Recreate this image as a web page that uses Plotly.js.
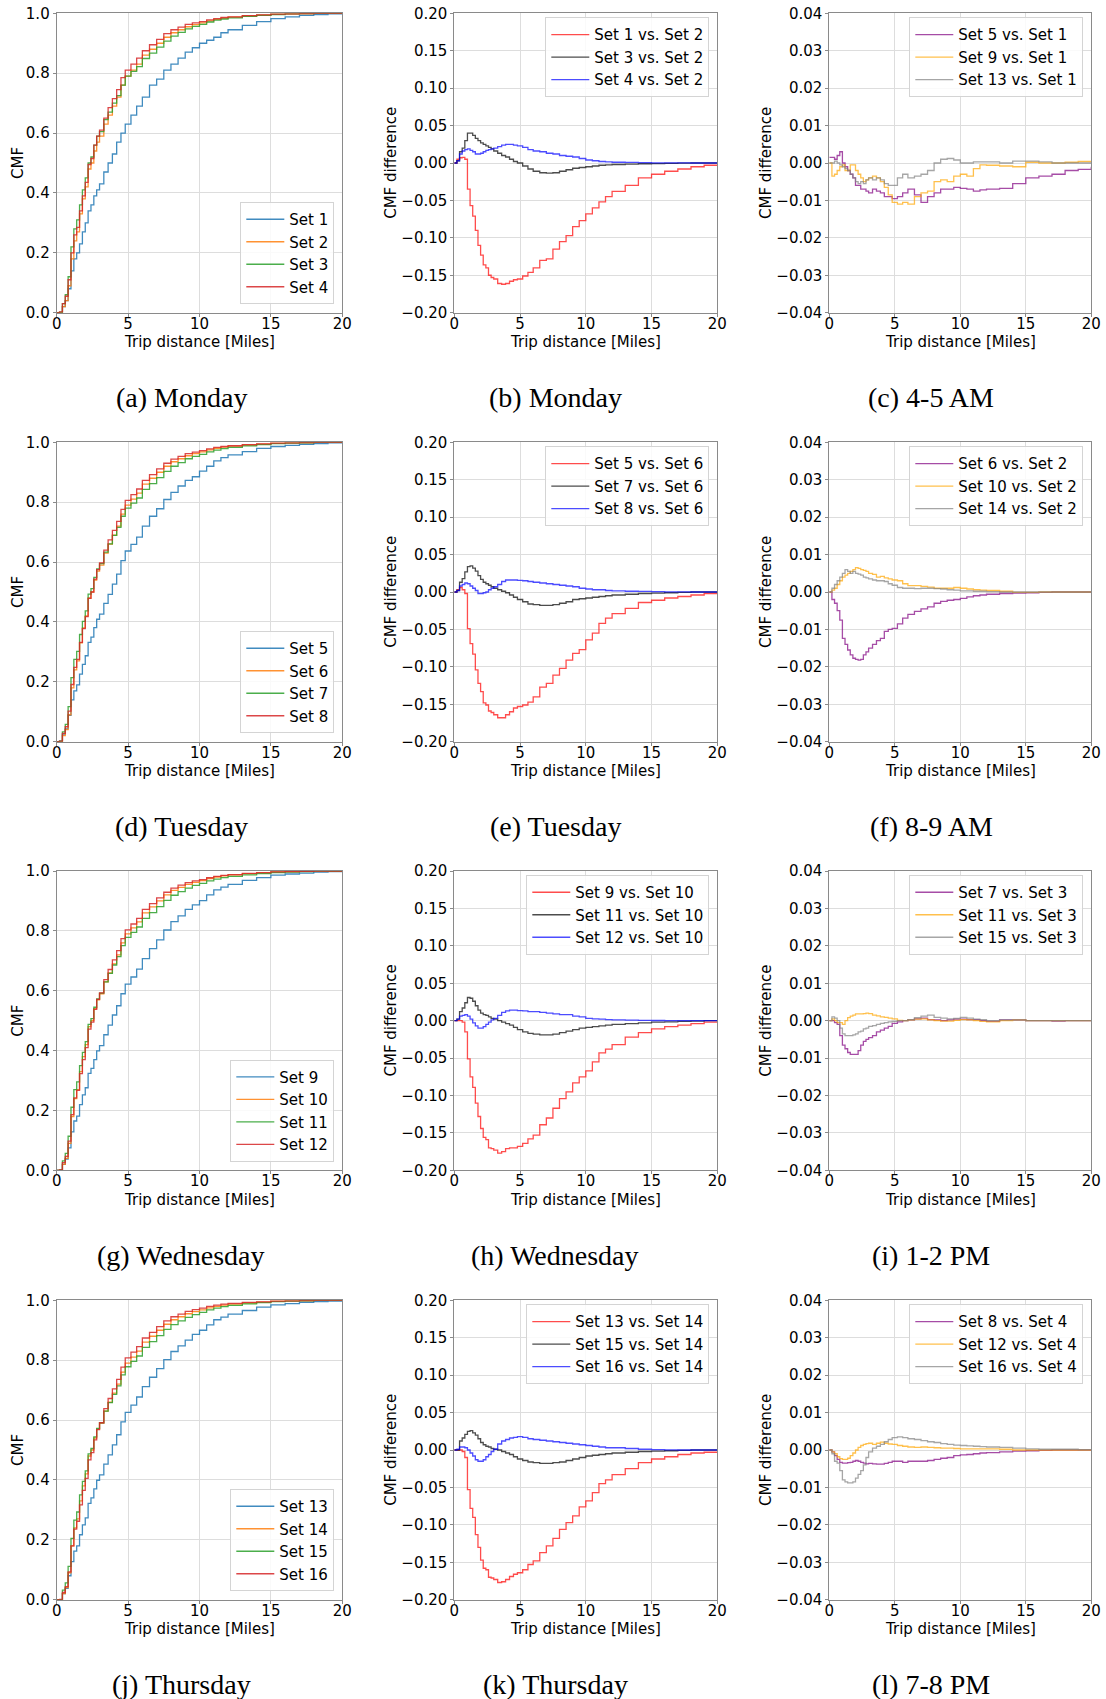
<!DOCTYPE html>
<html><head><meta charset="utf-8">
<script src="https://cdn.plot.ly/plotly-3.0.1.min.js"></script>
<style>html,body{margin:0;padding:0;background:#fff}#chart{width:1106px;height:1699px}</style>
</head><body><div id="chart"></div>
<script>
// ---------- data ----------
const X_MILES = [0,0.2,0.4,0.6,0.8,1.0,1.2,1.4,1.6,1.8,2.0,2.2,2.4,2.6,2.8,3.0,
  3.3,3.6,3.9,4.2,4.5,4.8, 5.2,5.6,6.0,
  6.5,7.0,7.5,8.0,8.5,9.0,9.5,10,10.5,11,11.5,12,
  13,14,15,16,17,18,19,20];

const CDF_SET1 = [0,0,0.02,0.04,0.08,0.14,0.18,0.20,0.23,0.27,0.30,0.34,0.36,0.39,0.41,0.43,
  0.47,0.50,0.53,0.57,0.60,0.63, 0.66,0.69,0.72,
  0.76,0.78,0.81,0.83,0.85,0.87,0.885,0.90,0.91,0.92,0.935,0.945,
  0.96,0.972,0.982,0.988,0.993,0.996,0.998,1.0];
const CDF_SET2 = [0,0,0.02,0.04,0.09,0.18,0.24,0.27,0.33,0.38,0.42,0.48,0.50,0.54,0.57,0.59,
  0.63,0.66,0.69,0.72,0.76,0.79, 0.81,0.83,0.86,
  0.88,0.90,0.92,0.935,0.945,0.955,0.962,0.968,0.975,0.98,0.984,0.987,
  0.991,0.994,0.997,0.998,0.999,1,1,1];
const CDF_SET3 = [0,0.002,0.03,0.06,0.12,0.22,0.28,0.31,0.36,0.41,0.45,0.50,0.52,0.56,0.59,0.605,
  0.645,0.67,0.70,0.725,0.76,0.79, 0.806,0.822,0.849,
  0.867,0.887,0.907,0.924,0.936,0.948,0.956,0.963,0.971,0.977,0.981,0.985,
  0.99,0.993,0.996,0.998,0.999,1,1,1];
const CDF_SET4 = [0,0.003,0.03,0.055,0.11,0.20,0.26,0.285,0.34,0.39,0.435,0.495,0.515,0.56,0.59,0.61,
  0.65,0.685,0.715,0.745,0.785,0.81, 0.83,0.85,0.875,
  0.895,0.913,0.932,0.945,0.954,0.963,0.968,0.972,0.978,0.982,0.986,0.988,
  0.992,0.995,0.997,0.998,0.999,1,1,1];
const CDF_SET5 = [0,0.002,0.025,0.043,0.088,0.14,0.17,0.19,0.226,0.258,0.287,0.332,0.349,0.381,0.409,0.426,
  0.462,0.492,0.526,0.56,0.605,0.637, 0.659,0.683,0.72,
  0.753,0.778,0.809,0.833,0.854,0.873,0.885,0.904,0.92,0.938,0.949,0.958,
  0.969,0.98,0.986,0.99,0.993,0.996,0.998,0.999];
const CDF_SET6 = [0,0,0.02,0.04,0.09,0.18,0.24,0.27,0.33,0.38,0.42,0.48,0.50,0.54,0.57,0.59,
  0.63,0.66,0.69,0.72,0.76,0.79, 0.81,0.83,0.86,
  0.88,0.90,0.92,0.935,0.945,0.955,0.962,0.968,0.975,0.98,0.984,0.987,
  0.991,0.994,0.997,0.998,0.999,1,1,1];
const CDF_SET7 = [0,0.002,0.033,0.058,0.117,0.214,0.275,0.302,0.358,0.402,0.437,0.493,0.511,0.549,0.577,0.595,
  0.633,0.661,0.689,0.716,0.753,0.78, 0.797,0.814,0.843,
  0.862,0.882,0.903,0.92,0.932,0.945,0.953,0.96,0.968,0.974,0.979,0.983,
  0.988,0.992,0.9955,0.997,0.9985,1,1,1];
const CDF_SET8 = [0,0.002,0.028,0.05,0.102,0.191,0.248,0.275,0.332,0.378,0.418,0.479,0.50,0.543,0.575,0.597,
  0.64,0.674,0.706,0.736,0.776,0.806, 0.825,0.844,0.873,
  0.892,0.911,0.93,0.944,0.953,0.962,0.967,0.972,0.978,0.983,0.986,0.9885,
  0.992,0.995,0.9975,0.998,0.999,1,1,1];
const CDF_SET9 = [0,0,0.02,0.038,0.075,0.129,0.165,0.181,0.22,0.252,0.276,0.324,0.341,0.37,0.399,0.417,
  0.453,0.485,0.519,0.55,0.59,0.622, 0.646,0.672,0.707,
  0.741,0.77,0.803,0.831,0.85,0.872,0.887,0.901,0.92,0.937,0.946,0.955,
  0.969,0.978,0.986,0.99,0.993,0.996,0.998,0.999];
const CDF_SET10 = [0,0,0.02,0.04,0.09,0.18,0.24,0.27,0.33,0.38,0.42,0.48,0.50,0.54,0.57,0.59,
  0.63,0.66,0.69,0.72,0.76,0.79, 0.81,0.83,0.86,
  0.88,0.90,0.92,0.935,0.945,0.955,0.962,0.968,0.975,0.98,0.984,0.987,
  0.991,0.994,0.997,0.998,0.999,1,1,1];
const CDF_SET11 = [0,0.002,0.032,0.057,0.114,0.211,0.27,0.296,0.35,0.394,0.43,0.488,0.507,0.545,0.573,0.592,
  0.63,0.658,0.686,0.714,0.751,0.778, 0.795,0.813,0.842,
  0.861,0.881,0.902,0.919,0.931,0.943,0.952,0.959,0.967,0.973,0.978,0.982,
  0.987,0.991,0.995,0.9965,0.998,0.9995,1,1];
const CDF_SET12 = [0,0.002,0.026,0.047,0.098,0.186,0.242,0.267,0.323,0.37,0.41,0.472,0.495,0.538,0.571,0.593,
  0.637,0.671,0.703,0.734,0.774,0.8035, 0.823,0.842,0.872,
  0.891,0.91,0.929,0.943,0.953,0.961,0.967,0.971,0.9775,0.982,0.9855,0.988,
  0.9918,0.9945,0.9973,0.9982,0.9991,1,1,1];
const CDF_SET13 = [0,0,0.02,0.038,0.08,0.127,0.162,0.18,0.217,0.25,0.273,0.322,0.34,0.37,0.399,0.417,
  0.453,0.484,0.517,0.551,0.594,0.626, 0.65,0.677,0.712,
  0.743,0.772,0.802,0.829,0.848,0.867,0.886,0.9,0.918,0.935,0.944,0.954,
  0.966,0.977,0.985,0.989,0.993,0.996,0.997,0.998];
const CDF_SET14 = [0,0,0.02,0.04,0.09,0.18,0.24,0.27,0.33,0.38,0.42,0.48,0.50,0.54,0.57,0.59,
  0.63,0.66,0.69,0.72,0.76,0.79, 0.81,0.83,0.86,
  0.88,0.90,0.92,0.935,0.945,0.955,0.962,0.968,0.975,0.98,0.984,0.987,
  0.991,0.994,0.997,0.998,0.999,1,1,1];
const CDF_SET15 = [0,0,0.032,0.056,0.111,0.205,0.266,0.293,0.35,0.395,0.43,0.487,0.505,0.544,0.572,0.591,
  0.63,0.658,0.686,0.714,0.751,0.778, 0.796,0.814,0.843,
  0.862,0.882,0.903,0.919,0.931,0.943,0.952,0.96,0.968,0.974,0.979,0.983,
  0.988,0.992,0.9955,0.997,0.9985,1,1,1];
const CDF_SET16 = [0,0.001,0.024,0.044,0.093,0.18,0.236,0.262,0.317,0.365,0.405,0.467,0.491,0.534,0.568,0.591,
  0.638,0.672,0.704,0.736,0.777,0.808, 0.827,0.845,0.874,
  0.893,0.912,0.931,0.945,0.954,0.963,0.969,0.974,0.98,0.984,0.987,0.99,
  0.993,0.995,0.9975,0.9983,0.999,1,1,1];

const DIFF_1_2 = [0,0.005,0.007,0.0076,0.005,-0.035,-0.057,-0.071,-0.09,-0.11,-0.123,-0.136,-0.14,-0.15,-0.153,-0.155,
  -0.161,-0.162,-0.161,-0.158,-0.156,-0.155, -0.151,-0.146,-0.14,
  -0.13,-0.128,-0.115,-0.105,-0.097,-0.085,-0.077,-0.068,-0.06,-0.052,-0.045,-0.038,
  -0.03,-0.02,-0.015,-0.011,-0.008,-0.005,-0.003,-0.002];
const DIFF_3_2 = [0,0.003,0.015,0.02,0.03,0.04,0.04,0.037,0.033,0.03,0.027,0.025,0.023,0.021,0.019,0.016,
  0.013,0.01,0.008,0.005,0.002,0.0, -0.004,-0.008,-0.011,
  -0.013,-0.0135,-0.013,-0.011,-0.009,-0.007,-0.006,-0.005,-0.004,-0.003,-0.0025,-0.002,
  -0.0015,-0.001,-0.0008,-0.0005,-0.0003,0,0,0];
const DIFF_4_2 = [0,0.003,0.012,0.016,0.018,0.019,0.017,0.015,0.012,0.012,0.013,0.015,0.017,0.018,0.019,0.02,
  0.022,0.024,0.025,0.025,0.024,0.023, 0.021,0.018,0.016,
  0.015,0.013,0.012,0.01,0.009,0.008,0.006,0.004,0.003,0.002,0.0015,0.001,
  0.0008,0.0005,0.0003,0.0002,0.0001,0,0,0];
const DIFF_5_1 = [0.0015,0.0015,0.001,0.002,0.003,0.0,-0.001,-0.002,-0.003,-0.004,-0.006,-0.006,-0.007,-0.007,-0.0075,-0.008,
  -0.007,-0.0075,-0.008,-0.009,-0.009,-0.0095, -0.009,-0.008,-0.007,
  -0.0085,-0.0105,-0.009,-0.008,-0.007,-0.007,-0.0065,-0.0068,-0.007,-0.0075,-0.0072,-0.007,
  -0.0068,-0.0055,-0.004,-0.0035,-0.003,-0.002,-0.0017,-0.001];
const DIFF_9_1 = [0,-0.0035,-0.003,-0.002,-0.001,-0.0005,-0.002,-0.002,-0.0005,-0.0005,-0.002,-0.003,-0.004,-0.005,-0.0045,-0.004,
  -0.0035,-0.004,-0.005,-0.0065,-0.0085,-0.0105, -0.011,-0.0105,-0.011,
  -0.009,-0.008,-0.0075,-0.005,-0.0045,-0.005,-0.0035,-0.003,-0.0035,-0.0015,-0.0005,-0.0006,
  -0.0008,-0.001,0.0002,0,0,0.0002,0.0004,0.0002];
const DIFF_13_1 = [0,0,0.0005,0,-0.0005,-0.001,-0.0015,-0.002,-0.003,-0.004,-0.005,-0.0055,-0.005,-0.0055,-0.0045,-0.004,
  -0.0045,-0.004,-0.0045,-0.0055,-0.006,-0.006, -0.004,-0.003,-0.004,
  -0.0035,-0.003,-0.002,0,0.001,0.0012,0.0008,0,0,0.0003,0.0003,0.0003,
  0,0.0005,0.0005,0.0003,0,0,0,0];
const DIFF_5_6 = [0,0.003,0.006,0.003,-0.002,-0.049,-0.069,-0.083,-0.104,-0.122,-0.133,-0.148,-0.151,-0.159,-0.161,-0.164,
  -0.168,-0.168,-0.164,-0.16,-0.155,-0.153, -0.151,-0.147,-0.14,
  -0.127,-0.122,-0.111,-0.102,-0.091,-0.082,-0.077,-0.064,-0.055,-0.042,-0.035,-0.029,
  -0.022,-0.014,-0.011,-0.008,-0.006,-0.004,-0.002,-0.001];
const DIFF_7_6 = [0,0.002,0.013,0.018,0.027,0.034,0.035,0.032,0.028,0.022,0.017,0.013,0.011,0.009,0.007,0.005,
  0.003,0.001,-0.001,-0.004,-0.007,-0.01, -0.013,-0.016,-0.017,
  -0.018,-0.018,-0.017,-0.015,-0.013,-0.01,-0.009,-0.008,-0.007,-0.006,-0.005,-0.004,
  -0.003,-0.002,-0.0015,-0.001,-0.0005,0,0,0];
const DIFF_8_6 = [0,0.002,0.008,0.01,0.012,0.011,0.008,0.005,0.002,-0.002,-0.002,-0.001,0,0.003,0.005,0.007,
  0.01,0.014,0.016,0.016,0.016,0.0155, 0.015,0.014,0.013,
  0.012,0.011,0.01,0.009,0.008,0.007,0.005,0.004,0.003,0.003,0.002,0.0015,
  0.001,0.0008,0.0005,0.0003,0.0002,0,0,0];
const DIFF_6_2 = [0,-0.002,-0.003,-0.005,-0.0075,-0.0124,-0.014,-0.0155,-0.0168,-0.0177,-0.018,-0.0182,-0.018,-0.0168,-0.016,-0.015,
  -0.014,-0.013,-0.0124,-0.0105,-0.01,-0.0097, -0.0085,-0.007,-0.006,
  -0.0052,-0.0045,-0.004,-0.003,-0.0025,-0.0022,-0.002,-0.0017,-0.0013,-0.001,-0.0008,-0.0006,
  -0.0004,-0.0003,-0.0002,-0.0001,0,0,0,0];
const DIFF_10_2 = [0,0.0005,0.001,0.002,0.003,0.004,0.0045,0.005,0.0055,0.006,0.0065,0.0063,0.006,0.0058,0.0055,0.005,
  0.0047,0.004,0.0042,0.0038,0.0035,0.0032, 0.003,0.0022,0.0017,
  0.0017,0.0015,0.0013,0.001,0.001,0.001,0.0012,0.001,0.0008,0.0006,0.0005,0.0004,
  0.0002,-0.0001,-0.0001,0,0,0,0,0];
const DIFF_14_2 = [0,0.001,0.002,0.003,0.004,0.005,0.006,0.0055,0.005,0.0055,0.005,0.0048,0.0045,0.004,0.0038,0.0035,
  0.0032,0.003,0.003,0.0028,0.0022,0.0018, 0.0012,0.001,0.001,
  0.0009,0.001,0.001,0.0009,0.0008,0.0006,0.0005,0.0003,0.0003,0.0002,0.0002,0.0001,
  0,0,0,0,0,0,0,0];
const DIFF_9_10 = [0,0,0,-0.002,-0.015,-0.051,-0.075,-0.089,-0.11,-0.128,-0.144,-0.156,-0.159,-0.17,-0.171,-0.173,
  -0.177,-0.175,-0.171,-0.17,-0.17,-0.168, -0.164,-0.158,-0.153,
  -0.139,-0.13,-0.117,-0.104,-0.095,-0.083,-0.075,-0.067,-0.055,-0.043,-0.038,-0.032,
  -0.022,-0.016,-0.011,-0.008,-0.006,-0.004,-0.002,-0.001];
const DIFF_11_10 = [0,0.002,0.012,0.017,0.024,0.031,0.03,0.026,0.02,0.014,0.01,0.008,0.007,0.005,0.003,0.002,
  0,-0.002,-0.004,-0.006,-0.009,-0.012, -0.015,-0.017,-0.018,
  -0.019,-0.019,-0.018,-0.016,-0.014,-0.012,-0.01,-0.009,-0.008,-0.007,-0.006,-0.005,
  -0.004,-0.003,-0.002,-0.0015,-0.001,-0.0005,0,0];
const DIFF_12_10 = [0,0.002,0.006,0.007,0.008,0.006,0.002,-0.003,-0.007,-0.01,-0.01,-0.008,-0.005,-0.002,0.001,0.003,
  0.007,0.011,0.013,0.014,0.014,0.0135, 0.013,0.012,0.012,
  0.011,0.01,0.009,0.008,0.008,0.006,0.005,0.003,0.0025,0.002,0.0015,0.001,
  0.0008,0.0005,0.0003,0.0002,0.0001,0,0,0];
const DIFF_7_3 = [0,0,-0.0005,-0.001,-0.004,-0.0065,-0.0075,-0.0085,-0.009,-0.009,-0.009,-0.008,-0.0065,-0.0055,-0.005,-0.0045,
  -0.004,-0.003,-0.0025,-0.002,-0.0015,-0.0007, -0.0003,0,0.0002,
  0.0005,0.0007,0.0003,0.0002,0,0.0002,0.0004,0.0004,0.0003,0.0003,0,-0.0002,
  0.0002,0.0002,0,0,-0.0001,0,0,0];
const DIFF_11_3 = [0,0.0005,0,-0.0005,-0.0005,-0.001,0,0.0008,0.0012,0.0015,0.0018,0.0018,0.0018,0.0019,0.002,0.0019,
  0.0015,0.0013,0.001,0.0009,0.0007,0.0005, 0.0001,0,0.0002,
  0.0004,0.0005,0.0002,0,-0.0001,-0.0001,0.0001,0.0003,0.0002,0,-0.0002,-0.0003,
  0,0.0002,0,0,0,0,0,0];
const DIFF_15_3 = [0,0.001,0.0007,0,-0.002,-0.0035,-0.004,-0.004,-0.004,-0.0038,-0.0035,-0.003,-0.0028,-0.0022,-0.002,-0.0015,
  -0.0013,-0.001,-0.0007,-0.0005,-0.0003,-0.0002, 0,0,0.0003,
  0.0008,0.0012,0.0015,0.0009,0.0007,0.0005,0.0006,0.0009,0.0007,0.0004,0.0003,0,
  0.0002,0.0002,0,0,0,0,0,0];
const DIFF_13_14 = [0,0,0,-0.002,-0.01,-0.053,-0.078,-0.09,-0.113,-0.13,-0.147,-0.158,-0.16,-0.17,-0.171,-0.173,
  -0.177,-0.176,-0.173,-0.169,-0.166,-0.164, -0.16,-0.153,-0.148,
  -0.137,-0.128,-0.118,-0.106,-0.097,-0.088,-0.076,-0.068,-0.057,-0.045,-0.04,-0.033,
  -0.025,-0.017,-0.012,-0.009,-0.006,-0.004,-0.003,-0.002];
const DIFF_15_14 = [0,0,0.012,0.016,0.021,0.025,0.026,0.023,0.02,0.015,0.01,0.007,0.005,0.004,0.002,0.001,
  0,-0.002,-0.004,-0.006,-0.009,-0.012, -0.014,-0.016,-0.017,
  -0.018,-0.018,-0.017,-0.016,-0.014,-0.012,-0.01,-0.008,-0.007,-0.006,-0.005,-0.004,
  -0.003,-0.002,-0.0015,-0.001,-0.0005,0,0,0];
const DIFF_16_14 = [0,0.001,0.004,0.004,0.003,0,-0.004,-0.008,-0.013,-0.015,-0.015,-0.013,-0.009,-0.006,-0.002,0.001,
  0.008,0.012,0.014,0.016,0.017,0.018, 0.017,0.015,0.014,
  0.013,0.012,0.011,0.01,0.009,0.008,0.007,0.006,0.005,0.004,0.003,0.003,
  0.002,0.001,0.0005,0.0003,0,0,0,0];
const DIFF_8_4 = [0,-0.0005,-0.0015,-0.0025,-0.0033,-0.0035,-0.0035,-0.0034,-0.0033,-0.003,-0.0028,-0.003,-0.0033,-0.0035,-0.0037,-0.0036,
  -0.0037,-0.0038,-0.0038,-0.0036,-0.0033,-0.003, -0.003,-0.0033,-0.003,
  -0.003,-0.003,-0.0028,-0.0025,-0.0022,-0.002,-0.0015,-0.0013,-0.0012,-0.001,-0.0008,-0.0007,
  -0.0005,-0.0003,-0.0002,-0.0001,0,0,0,0];
const DIFF_12_4 = [0,-0.0005,-0.001,-0.0018,-0.0023,-0.0025,-0.0025,-0.0022,-0.0015,-0.0008,0,0.0007,0.0012,0.0015,0.0017,0.0018,
  0.0015,0.0018,0.0021,0.0018,0.0016,0.0015, 0.0012,0.001,0.0008,
  0.0007,0.0008,0.0007,0.0006,0.0005,0.0005,0.0004,0.0003,0.0003,0.0003,0.0003,0.0003,
  0.0002,0,0,0,0,0,0,0];
const DIFF_16_4 = [0,-0.001,-0.003,-0.0035,-0.0055,-0.008,-0.0085,-0.0088,-0.0088,-0.0085,-0.0075,-0.0065,-0.0055,-0.004,-0.002,-0.0005,
  0.0005,0.001,0.0015,0.0022,0.0028,0.0033, 0.0035,0.0033,0.003,
  0.0028,0.0025,0.0022,0.002,0.0017,0.0015,0.0013,0.0012,0.0011,0.001,0.0009,0.0008,
  0.0007,0.0005,0.0003,0.0002,0.0002,0.0002,0.0001,0];

const CAPTIONS = ["(a) Monday","(b) Monday","(c) 4-5 AM",
  "(d) Tuesday","(e) Tuesday","(f) 8-9 AM",
  "(g) Wednesday","(h) Wednesday","(i) 1-2 PM",
  "(j) Thursday","(k) Thursday","(l) 7-8 PM"];
const X_TITLE = "Trip distance [Miles]";
const Y_TITLE_CMF = "CMF";
const Y_TITLE_DIFF = "CMF difference";

// ---------- panel definitions (row-major) ----------
const CDF_COLORS = ['#1f77b4','#ff7f0e','#2ca02c','#d62728'];
const MID_COLORS = ['#ff0000','#000000','#0000ff'];
const RIGHT_COLORS = ['#800080','#ffa500','#808080'];

const PANELS = [
  {kind:'cdf', names:['Set 1','Set 2','Set 3','Set 4'], ys:[CDF_SET1,CDF_SET2,CDF_SET3,CDF_SET4]},
  {kind:'mid', names:['Set 1 vs. Set 2','Set 3 vs. Set 2','Set 4 vs. Set 2'], ys:[DIFF_1_2,DIFF_3_2,DIFF_4_2]},
  {kind:'right', names:['Set 5 vs. Set 1','Set 9 vs. Set 1','Set 13 vs. Set 1'], ys:[DIFF_5_1,DIFF_9_1,DIFF_13_1]},
  {kind:'cdf', names:['Set 5','Set 6','Set 7','Set 8'], ys:[CDF_SET5,CDF_SET6,CDF_SET7,CDF_SET8]},
  {kind:'mid', names:['Set 5 vs. Set 6','Set 7 vs. Set 6','Set 8 vs. Set 6'], ys:[DIFF_5_6,DIFF_7_6,DIFF_8_6]},
  {kind:'right', names:['Set 6 vs. Set 2','Set 10 vs. Set 2','Set 14 vs. Set 2'], ys:[DIFF_6_2,DIFF_10_2,DIFF_14_2]},
  {kind:'cdf', names:['Set 9','Set 10','Set 11','Set 12'], ys:[CDF_SET9,CDF_SET10,CDF_SET11,CDF_SET12]},
  {kind:'mid', names:['Set 9 vs. Set 10','Set 11 vs. Set 10','Set 12 vs. Set 10'], ys:[DIFF_9_10,DIFF_11_10,DIFF_12_10]},
  {kind:'right', names:['Set 7 vs. Set 3','Set 11 vs. Set 3','Set 15 vs. Set 3'], ys:[DIFF_7_3,DIFF_11_3,DIFF_15_3]},
  {kind:'cdf', names:['Set 13','Set 14','Set 15','Set 16'], ys:[CDF_SET13,CDF_SET14,CDF_SET15,CDF_SET16]},
  {kind:'mid', names:['Set 13 vs. Set 14','Set 15 vs. Set 14','Set 16 vs. Set 14'], ys:[DIFF_13_14,DIFF_15_14,DIFF_16_14]},
  {kind:'right', names:['Set 8 vs. Set 4','Set 12 vs. Set 4','Set 16 vs. Set 4'], ys:[DIFF_8_4,DIFF_12_4,DIFF_16_4]}
];

// ---------- geometry (pixels) ----------
const W = 1106, H = 1699;
const COL_X = [[56.7,342.3],[454.3,717.3],[829.3,1091.3]];
const ROW_TOP = [13.3, 442.3, 871, 1300.3];
const PLOT_H = 299.4;
const CAP_X = [181, 555, 931];
const CAP_Y = [397, 826, 1255, 1684];
const fx = p => p / W;
const fy = p => 1 - p / H;

const FONT = 'DejaVu Sans, sans-serif';
const TXT = {family: FONT, size: 15, color: '#000'};
const traces = [];
const layout = {
  width: W, height: H,
  margin: {l:0, r:0, t:0, b:0},
  paper_bgcolor: '#ffffff', plot_bgcolor: '#ffffff',
  font: TXT,
  showlegend: true,
  annotations: []
};

PANELS.forEach((p, i) => {
  const row = Math.floor(i / 3), col = i % 3;
  const n = i + 1;
  const sfx = n > 1 ? String(n) : '';
  const colors = p.kind === 'cdf' ? CDF_COLORS : (p.kind === 'mid' ? MID_COLORS : RIGHT_COLORS);
  const opac = p.kind === 'cdf' ? 0.85 : 0.7;
  p.ys.forEach((y, k) => {
    traces.push({
      type: 'scatter', mode: 'lines', x: X_MILES, y: y, name: p.names[k],
      xaxis: 'x' + sfx, yaxis: 'y' + sfx, legend: 'legend' + sfx,
      line: {color: colors[k], width: 1.3, shape: 'hv'}, opacity: opac
    });
  });
  const x0 = COL_X[col][0], x1 = COL_X[col][1];
  const top = ROW_TOP[row], bot = top + PLOT_H;
  const axCommon = {
    showline: true, mirror: true, linecolor: '#8a8a8a', linewidth: 1,
    showgrid: true, gridcolor: '#dddddd', gridwidth: 1, zeroline: false,
    ticks: 'outside', ticklen: 3, tickcolor: '#8a8a8a',
    tickfont: TXT
  };
  layout['xaxis' + sfx] = Object.assign({}, axCommon, {
    domain: [fx(x0), fx(x1)], anchor: 'y' + sfx, range: [0, 20],
    tickvals: [0,5,10,15,20], ticklabelstandoff: -6
  });
  let yr, dt, fmt, yt, yoff;
  if (p.kind === 'cdf') { yr = [0, 1]; dt = 0.2; fmt = '.1f'; yt = Y_TITLE_CMF; yoff = 38.7; }
  else if (p.kind === 'mid') { yr = [-0.2, 0.2]; dt = 0.05; fmt = '.2f'; yt = Y_TITLE_DIFF; yoff = 63.5; }
  else { yr = [-0.04, 0.04]; dt = 0.01; fmt = '.2f'; yt = Y_TITLE_DIFF; yoff = 63.3; }
  layout['yaxis' + sfx] = Object.assign({}, axCommon, {
    domain: [fy(bot), fy(top)], anchor: 'x' + sfx, range: yr,
    tick0: 0, dtick: dt, tickformat: fmt
  });
  // axis titles
  layout.annotations.push({
    xref: 'paper', yref: 'paper', x: fx((x0 + x1) / 2), y: fy(bot + 29.5),
    xanchor: 'center', yanchor: 'middle', showarrow: false, text: X_TITLE, font: TXT
  });
  layout.annotations.push({
    xref: 'paper', yref: 'paper', x: fx(x0 - yoff), y: fy(top + PLOT_H / 2),
    xanchor: 'center', yanchor: 'middle', showarrow: false, textangle: -90, text: yt, font: TXT
  });
  const leg = {
    font: TXT, itemwidth: 38,
    bgcolor: 'rgba(255,255,255,0.85)', bordercolor: '#d4d4d4', borderwidth: 1,
    xanchor: 'right', x: fx(x1 - 8)
  };
  if (p.kind === 'cdf') { leg.yanchor = 'bottom'; leg.y = fy(bot - 8.7); }
  else { leg.yanchor = 'top'; leg.y = fy(top + 4); }
  layout['legend' + sfx] = leg;
  layout.annotations.push({
    xref: 'paper', yref: 'paper', x: fx(CAP_X[col]), y: fy(CAP_Y[row]),
    xanchor: 'center', yanchor: 'middle', showarrow: false,
    text: CAPTIONS[i], font: {family: 'Liberation Serif, Times New Roman, serif', size: 28, color: '#000'}
  });
});

Plotly.newPlot('chart', traces, layout, {staticPlot: true});
</script>
</body></html>
